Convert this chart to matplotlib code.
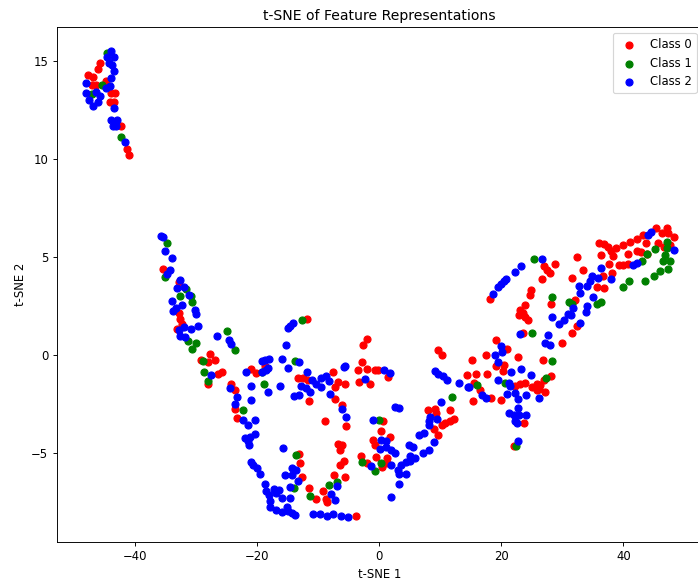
import matplotlib
matplotlib.use("Agg")
import matplotlib.pyplot as plt
import numpy as np

# values, (t-SNE 1, t-SNE 2)
class0 = [
    (-45.7, 14.9), (-46.1, 14.6), (-47.7, 14.3), (-46.9, 14.2), (-47.1, 13.8), (-46.4, 13.8), (-44.85, 14.0),
    (-44.0, 13.35), (-43.3, 13.4), (-44.1, 12.9), (-43.5, 12.9), (-42.3, 11.7), (-41.3, 10.5), (-41.0, 10.2),
    (-35.5, 4.4), (-32.85, 3.71), (-32.8, 2.13), (-32.7, 1.84), (-32.4, 1.6), (-33.1, 1.31),
    (-27.8, 0.07), (-29.3, -0.27), (-28.0, -0.34), (-27.0, -0.25), (-25.75, -0.85), (-26.5, -0.96), (-28.0, -1.47),
    (-24.3, -1.47), (-23.7, -1.78), (-23.6, -2.75), (-23.4, -3.2), (-21.1, -0.7), (-20.2, -0.93), (-18.8, -0.56),
    (-11.85, 1.84), (-13.4, -1.18), (-12.5, -1.2), (-11.7, -1.27), (-7.6, -0.88), (-7.2, -1.64), (-6.8, -1.39),
    (-5.6, -1.47), (-11.6, -2.37), (-7.2, -2.24), (-6.2, -2.55), (-8.95, -3.4), (-5.4, -3.65),
    (-6.8, -4.57), (-6.1, -4.58), (-6.4, -4.84), (-5.8, -5.4), (-6.5, -5.64), (-7.5, -6.15), (-5.6, -6.25),
    (-13.0, -5.52), (-12.66, -6.25), (-13.2, -5.06), (-11.6, -6.8), (-10.3, -7.36), (-9.2, -6.97), (-8.7, -7.36),
    (-8.5, -7.53), (-3.9, -8.24),
    (-2.0, 0.79), (-2.7, 0.53), (-2.85, -0.37), (-3.5, -0.79), (-2.0, -0.71), (-0.65, -0.79), (-0.3, -0.76),
    (1.4, -1.13), (-3.4, -1.39), (-1.6, -1.47), (9.55, 0.26), (10.3, 0.02), (8.0, -2.83), (9.2, -2.77), (9.3, -2.97),
    (9.0, -3.77), (9.6, -4.07), (0.6, -3.4), (0.2, -3.9), (-1.1, -4.33), (1.8, -4.2), (-0.65, -4.62),
    (-0.5, -5.2), (1.25, -5.27), (-3.0, -5.18), (-2.0, -5.5), (0.44, -5.7), (1.25, -5.5),
    (11.5, -2.8), (12.2, -3.28), (11.5, -3.4), (10.8, -3.5), (10.3, -3.6),
    (18.06, 2.86), (24.9, 3.29), (24.7, 3.07), (23.8, 2.55), (23.1, 2.3), (22.9, 2.05), (23.5, 2.13),
    (23.9, 1.93), (24.3, 1.76), (23.5, 1.11), (19.1, 0.75), (20.9, 0.29), (22.7, -0.11), (17.5, 0.0), (15.2, -0.28),
    (19.1, -0.59), (20.35, -0.54), (20.2, -0.8), (17.6, -0.96), (15.9, -0.96), (14.4, -1.05), (16.5, -1.8),
    (15.55, -1.44), (15.4, -2.37), (19.9, -2.32), (18.3, -2.2), (23.9, -1.44), (23.1, -1.5), (22.25, -1.58),
    (25.0, -1.66), (25.8, -1.47), (26.35, -1.53), (27.0, -1.27), (28.1, -1.1), (27.2, -1.87), (25.9, -1.78),
    (26.2, -1.75), (23.7, -3.5), (22.0, -4.64), (26.8, -0.25), (29.95, 0.6),
    (45.3, 6.5), (47.1, 6.5), (46.3, 6.24), (47.35, 6.24), (48.2, 6.0), (45.7, 5.7), (47.6, 5.6), (46.6, 5.53),
    (43.15, 6.13), (42.2, 5.94), (41.1, 5.77), (39.9, 5.6), (38.8, 5.46), (43.7, 5.7), (35.95, 5.73), (36.8, 5.65),
    (37.5, 5.53), (37.9, 5.33), (38.25, 5.05), (36.3, 5.09), (40.8, 5.17), (42.2, 5.33), (42.8, 5.24), (43.8, 5.14),
    (37.6, 4.63), (39.2, 4.6), (39.9, 4.6), (40.7, 4.63), (32.35, 5.0), (33.3, 4.32), (31.6, 3.93), (36.6, 4.03),
    (38.2, 4.17), (35.6, 3.46), (36.8, 3.4), (32.1, 2.8), (28.15, 2.6), (32.35, 1.5), (31.6, 1.13),
    (28.8, 4.66), (27.9, 4.17), (26.6, 3.86), (27.0, 4.54), (27.4, 4.34),
]

class1 = [
    (-44.7, 15.4), (-45.5, 13.8), (-47.1, 13.3), (-42.3, 11.15),
    (-34.8, 5.73), (-35.2, 3.97), (-31.65, 3.37), (-32.6, 3.03), (-30.8, 3.03), (-30.7, 2.69),
    (-31.3, 0.7), (-30.0, 0.6), (-30.7, 0.31), (-24.9, 1.21), (-23.7, 0.26), (-28.9, -0.3), (-28.7, -0.86), (-28.0, -1.32),
    (-12.66, 1.76), (-13.9, -0.33), (-19.2, -0.85), (-18.9, -1.47), (-22.4, -2.8), (-13.6, -5.1), (-14.0, -6.8),
    (-11.4, -7.19), (-8.3, -6.66), (-6.9, -6.5),
    (-0.1, -3.34), (-2.8, -5.47), (0.27, -5.52), (-0.76, -5.95), (11.95, -2.15),
    (25.4, 4.88), (28.3, 2.96), (25.0, 1.13), (28.3, -0.32), (27.3, -1.17), (20.6, -1.44), (16.0, -1.56), (22.4, -4.64),
    (47.1, 5.77), (47.1, 5.48), (45.1, 5.43), (43.8, 5.14), (43.0, 4.78), (46.8, 5.1), (46.4, 4.77), (47.7, 4.77),
    (47.35, 4.37), (46.0, 4.27), (45.0, 4.02), (43.6, 3.78), (40.9, 3.78), (39.9, 3.47), (36.4, 2.7), (35.6, 2.6),
    (31.0, 2.7), (31.6, 2.6),
]

class2 = [
    (-44.0, 15.5), (-43.5, 15.2), (-44.6, 15.2), (-44.3, 14.9), (-43.8, 14.8), (-43.5, 14.5), (-43.9, 14.15),
    (-44.85, 13.65), (-44.1, 13.75), (-48.0, 13.9), (-48.0, 13.35), (-46.5, 13.45), (-45.7, 13.2), (-47.5, 13.0),
    (-46.1, 12.9), (-47.0, 12.7), (-43.5, 12.6), (-43.9, 12.0), (-43.0, 12.0), (-43.65, 11.7), (-43.1, 11.7), (-41.7, 10.85),
    (-35.85, 6.09), (-35.5, 6.0), (-35.2, 5.3), (-33.9, 4.95), (-34.3, 4.34), (-34.85, 4.14), (-32.7, 3.83),
    (-33.2, 3.42), (-32.0, 3.45), (-31.15, 3.05), (-33.9, 2.74), (-32.3, 2.57), (-33.4, 2.4), (-33.8, 2.23),
    (-30.2, 2.27), (-30.0, 2.11), (-29.7, 1.47), (-30.8, 1.3), (-32.0, 1.42), (-32.85, 1.28), (-32.6, 0.99), (-31.9, 0.9),
    (-26.6, 0.96), (-24.7, 0.74), (-24.3, 0.58), (-15.3, 0.48), (-15.0, 1.38), (-14.6, 1.5), (-14.1, 1.62), (-27.6, -1.05),
    (-16.0, -0.2), (-18.1, -0.2), (-18.7, -0.25), (-19.3, -0.33), (-13.2, -0.37), (-14.95, -0.68), (-18.2, -0.69),
    (-18.65, -0.76), (-19.2, -0.85), (-21.8, -0.88), (-11.85, -0.88), (-9.5, -1.18), (-8.7, -1.07), (-8.2, -1.34),
    (-11.0, -1.3), (-10.4, -1.47), (-9.55, -1.64), (-12.8, -1.6), (-12.1, -1.7), (-11.3, -1.87), (-8.1, -2.0),
    (-13.1, -2.05), (-14.0, -2.12), (-16.2, -1.6), (-18.2, -1.9), (-21.1, -1.6), (-24.4, -1.68), (-21.0, -2.3),
    (-23.3, -2.17), (-23.7, -2.5), (-6.2, -2.75), (-5.5, -3.17), (-20.4, -3.3), (-22.4, -3.34), (-21.6, -3.57),
    (-20.3, -4.02), (-22.0, -4.25), (-21.2, -4.2), (-21.5, -4.38), (-21.4, -4.6), (-15.8, -4.75), (-21.1, -5.47),
    (-20.7, -5.6), (-20.1, -5.78), (-19.6, -6.1), (-14.3, -5.78), (-13.6, -5.9), (-15.4, -6.15), (-14.3, -6.15),
    (-13.3, -6.45), (-14.6, -6.74), (-18.8, -6.57), (-18.55, -6.93), (-17.3, -6.83), (-16.4, -6.9), (-18.0, -7.17),
    (-17.0, -7.05), (-16.0, -7.3), (-14.6, -7.3), (-17.85, -7.47), (-17.85, -7.76), (-16.9, -7.93), (-15.9, -8.0),
    (-15.1, -7.76), (-15.0, -7.98), (-14.3, -8.07), (-13.75, -8.17), (-10.9, -8.15), (-9.7, -8.12), (-8.5, -8.24),
    (-7.6, -8.15), (-6.3, -8.24), (-5.1, -8.3), (-7.9, -7.1), (-7.3, -7.4), (-6.9, -6.7), (-5.6, -0.56), (-5.8, -0.62),
    (-2.3, -1.25), (0.7, -0.79), (1.7, -0.95), (2.5, -2.66), (3.3, -2.7), (-1.1, -3.3), (0.27, -4.36), (1.15, -4.4),
    (0.06, -4.8), (1.15, -4.72), (1.9, -4.87), (2.6, -5.0), (-1.3, -5.69), (1.97, -5.6), (3.06, -5.86), (3.6, -5.6),
    (4.3, -6.08), (3.2, -6.1), (3.2, -6.6), (1.86, -7.27), (4.37, -5.49), (5.1, -5.43), (5.1, -5.18), (5.9, -5.27),
    (7.15, -5.0), (8.1, -4.84), (8.95, -4.45), (4.8, -4.6), (5.5, -4.7), (6.55, -4.08), (7.3, -4.0), (8.1, -3.6),
    (8.1, -3.4), (8.35, -3.17), (9.5, -3.26), (10.15, -2.41), (9.2, -0.83), (9.6, -0.96), (10.4, -1.07), (11.1, -1.27),
    (13.0, -1.44), (14.6, -1.64), (16.9, -2.07), (17.5, -2.2), (26.6, 4.88), (23.2, 4.54), (22.3, 4.24), (20.8, 3.9),
    (20.35, 3.75), (19.9, 3.6), (19.5, 3.49), (18.6, 3.13), (23.0, 1.09), (19.9, 0.43), (20.1, 0.14), (18.9, -0.03),
    (19.4, -0.35), (21.6, -0.88), (23.2, -0.74), (24.9, -1.05), (19.4, -1.3), (21.2, -1.44), (21.4, -1.6), (20.9, -1.98),
    (22.3, -1.95), (22.7, -2.26), (24.0, -2.07), (26.1, -2.2), (22.7, -2.7), (21.3, -2.97), (22.0, -3.05), (22.9, -3.09),
    (24.0, -3.05), (22.15, -3.4), (22.6, -3.5), (22.7, -4.4), (14.7, -1.64),
    (44.5, 6.28), (44.1, 6.13), (48.2, 5.36), (42.2, 4.68), (41.5, 4.6), (36.3, 4.46), (34.8, 4.05), (35.9, 3.93),
    (38.0, 3.86), (34.5, 3.76), (34.0, 3.52), (32.7, 3.52), (32.8, 3.18), (35.0, 2.96), (34.1, 2.5), (33.8, 2.2),
    (31.7, 2.37), (30.9, 2.08), (31.4, 2.03), (30.2, 1.77), (29.5, 1.57), (28.3, 1.93), (32.8, 1.62), (27.6, 1.04),
    (27.1, 0.63), (28.0, 0.52),
]

class_names = ["Class 0", "Class 1", "Class 2"]
class_colors = ["red", "green", "blue"]

# the reference is a scaled down figure, so a lower dpi keeps the default sizes
DPI = 84
fig = plt.figure(figsize=(698 / DPI, 583 / DPI), dpi=DPI)
ax = fig.add_axes([56.5 / 698, (583 - 541.7) / 583, 646 / 698, 514.4 / 583])

for pts, name, col in zip([class0, class1, class2], class_names, class_colors):
    arr = np.array(pts)
    ax.scatter(arr[:, 0], arr[:, 1], c=col, label=name)

ax.set_xlim(-52.9, 52.95)
ax.set_ylim(-9.54, 16.73)
ax.set_xticks([-40, -20, 0, 20, 40])
ax.set_yticks([-5, 0, 5, 10, 15])
ax.set_title("t-SNE of Feature Representations")
ax.set_xlabel("t-SNE 1")
ax.set_ylabel("t-SNE 2")
ax.legend(loc="upper right")

fig.savefig("out.png", dpi=DPI)
